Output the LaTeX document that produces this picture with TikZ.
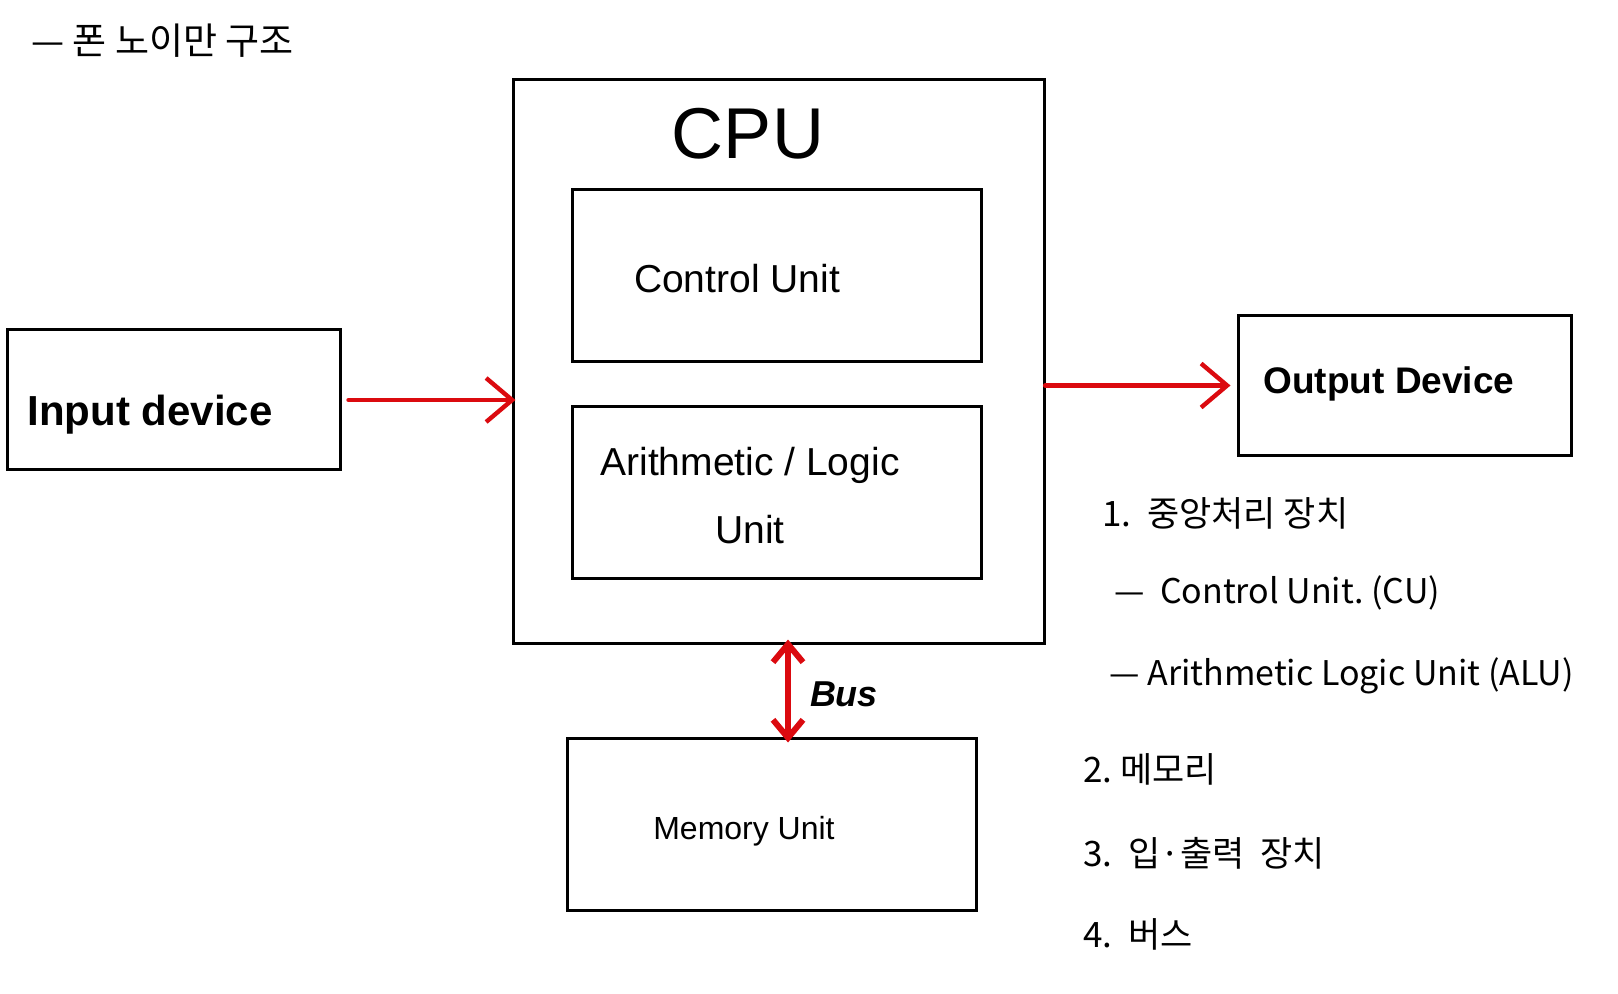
\documentclass[tikz,border=0pt]{standalone}
\usepackage{fontspec}
\setmainfont{Liberation Sans}
\newfontfamily\kofont{Noto Sans CJK KR}
\usetikzlibrary{
  arrows.meta,
  positioning
}
\usepackage{xcolor}
\definecolor{arrowRed}{rgb}{0.86,0.04,0.06}
\tikzset{
  unitBox/.style={
    draw,
    line width=1.5pt,
    minimum width=204.5pt,
    minimum height=86pt,
    inner sep=0pt
  }
}
\tikzset{
  ioBox/.style={
    draw,
    line width=1.5pt,
    minimum width=166.5pt,
    minimum height=70pt,
    inner sep=0pt
  }
}
\tikzset{
  redArrow/.style={
    draw=arrowRed,
    line width=2.2pt,
    line cap=round,
    -{Straight Barb[length=13pt,width=22pt,line width=2.2pt]}
  }
}
\tikzset{
  listText/.style={
    anchor=west,
    inner sep=0pt,
    font=\kofont\fontsize{17.5}{20}\selectfont
  }
}

\begin{document}
\begin{tikzpicture}[x=0.5pt, y=-0.5pt]
    \useasboundingbox (0,0) rectangle (1618,994);

    \node[listText, font=\kofont\fontsize{18.5}{20}\selectfont] (title)
      at (31,41) {— 폰 노이만 구조};

    % CPU and its units
    \node[draw, line width=1.5pt, minimum width=265.5pt,
      minimum height=281.5pt] (cpu) at (778.5,361.5) {};
    \node[font=\fontsize{36}{40}\selectfont] (cpuLabel) at (748,134) {CPU};
    \node[unitBox] (cu) at (776.5,276) {};
    \node[unitBox, below=21pt of cu] (alu) {};
    \node[font=\fontsize{19.5}{22}\selectfont] (cuText) at (737,279)
      {Control Unit};
    \node[font=\fontsize{19.5}{34}\selectfont, align=center] (aluText)
      at (750,496) {Arithmetic / Logic\\Unit};

    \node[unitBox] (mem) at (771.5,824) {};
    \node[font=\fontsize{16}{19}\selectfont] (memText) at (744,831)
      {Memory Unit};

    % input / output
    \node[ioBox] (input) at (173.5,400) {};
    \node[font=\bfseries\fontsize{21}{24}\selectfont] (inText)
      at (150,415) {Input device};
    \node[ioBox] (output) at (1404.5,385.5) {};
    \node[font=\bfseries\fontsize{18.5}{21}\selectfont] (outText)
      at (1389,384) {Output Device};

    \draw[redArrow, shorten <=3.5pt, shorten >=-2pt]
      (input.east) -- (input.east -| cpu.west);
    \draw[redArrow, line width=2.6pt, shorten >=3pt]
      (output.west -| cpu.east) -- (output.west);

    % bus
    \coordinate (busLine) at (788,0);
    \draw[redArrow, line width=3pt, shorten <=-2.5pt, shorten >=-3pt,
      {Straight Barb[length=9pt,width=15pt,line width=3pt]}-{Straight Barb[length=9pt,width=15pt,line width=3pt]}]
      (busLine |- cpu.south) -- (busLine |- mem.north);
    \node[font=\bfseries\itshape\fontsize{18}{21}\selectfont] (busLabel)
      at (844,694) {Bus};

    % summary list
    \foreach \name/\x/\y/\txt in {
      cpuItem/1102/513/{1.\ \ 중앙처리 장치},
      cuItem/1114/593/{\fontsize{17}{20}\selectfont—\ \ Control Unit.\ (CU)},
      aluItem/1109/676/{\fontsize{17}{20}\selectfont—\ Arithmetic Logic Unit (ALU)},
      memItem/1083/769/{2.\ 메모리},
      ioItem/1083/853/{3.\ \ 입·출력\ \ 장치},
      busItem/1083/934/{4.\ \ 버스}}{
      \node[listText] (\name) at (\x,\y) {\txt};
    }
  \end{tikzpicture}
\end{document}
